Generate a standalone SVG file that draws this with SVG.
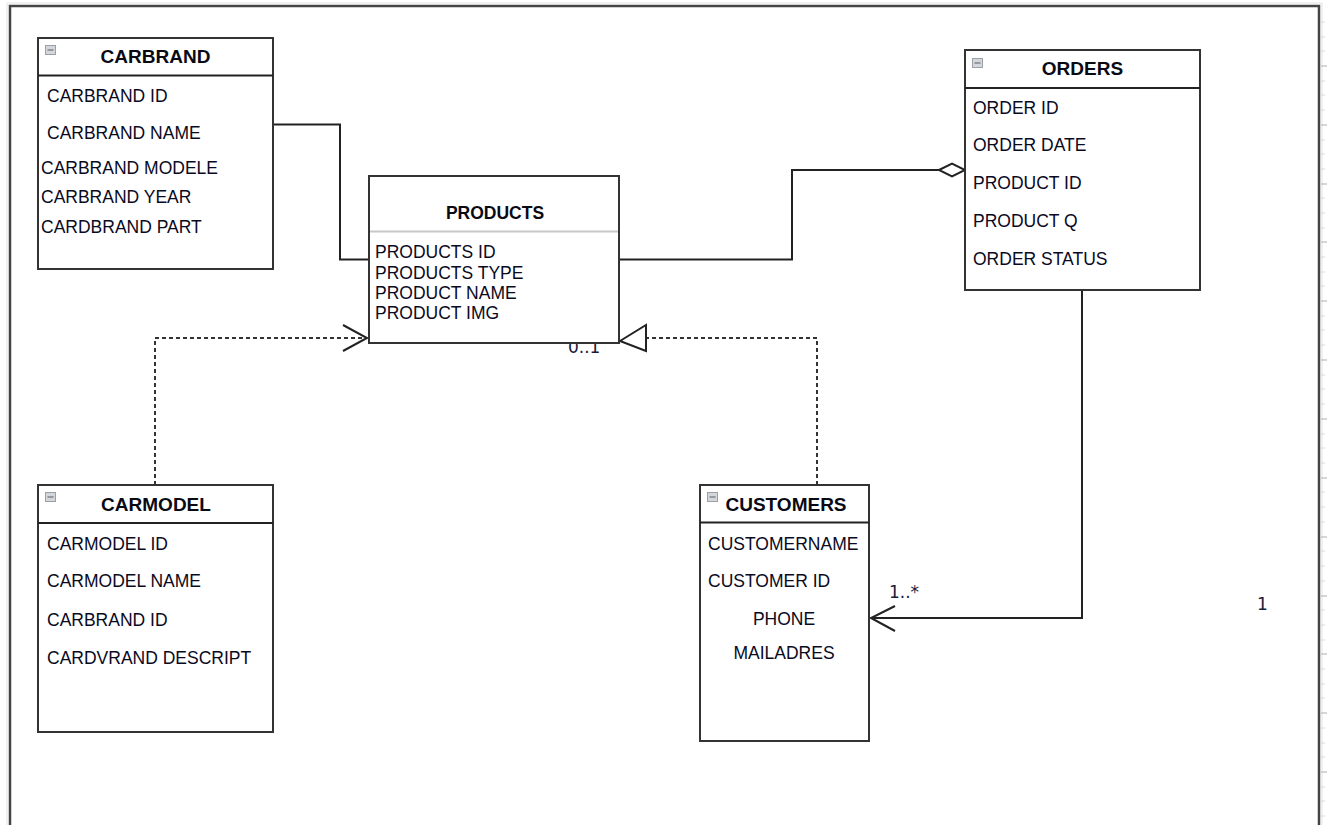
<svg xmlns="http://www.w3.org/2000/svg" width="1327" height="825" viewBox="0 0 1327 825">
<defs>
<style>
.box{fill:#fff;stroke:#333;stroke-width:2}
.hdr{stroke:#222;stroke-width:2}
.ttl{font-family:"Liberation Sans",Arial,sans-serif;font-weight:bold;font-size:19px;fill:#0a0a14;text-anchor:middle}
.fld{font-family:"Liberation Sans",Arial,sans-serif;font-size:17.5px;fill:#0a0a1e}
.lbl{font-family:"DejaVu Sans",Verdana,sans-serif;font-size:17px;fill:#1a1a3a}
.ico{fill:#d3d6da;stroke:#9ba0a6;stroke-width:1}
.icl{stroke:#6d7278;stroke-width:1.2}
.con{fill:none;stroke:#222;stroke-width:2}
.dot{fill:none;stroke:#333;stroke-width:2;stroke-dasharray:4 3}
.tk{stroke:#dcdcdc;stroke-width:1}
.tkm{stroke:#c8c8c8;stroke-width:1.5}
</style>
</defs>
<rect x="0" y="0" width="1327" height="825" fill="#fff"/>
<g id="page">
<path d="M10,825 V6 H1319 V825" fill="none" stroke="#444" stroke-width="2.5"/>
<path d="M7,825 V3 H1322 V825" fill="none" stroke="#e2e2e2" stroke-width="1"/>
<g id="ruler">
<line class="tkm" x1="1321" y1="66" x2="1327" y2="66"/>
<line class="tkm" x1="1321" y1="125" x2="1327" y2="125"/>
<line class="tkm" x1="1321" y1="184" x2="1327" y2="184"/>
<line class="tkm" x1="1321" y1="242" x2="1327" y2="242"/>
<line class="tkm" x1="1321" y1="301" x2="1327" y2="301"/>
<line class="tkm" x1="1321" y1="360" x2="1327" y2="360"/>
<line class="tkm" x1="1321" y1="419" x2="1327" y2="419"/>
<line class="tkm" x1="1321" y1="478" x2="1327" y2="478"/>
<line class="tkm" x1="1321" y1="537" x2="1327" y2="537"/>
<line class="tkm" x1="1321" y1="596" x2="1327" y2="596"/>
<line class="tkm" x1="1321" y1="654" x2="1327" y2="654"/>
<line class="tkm" x1="1321" y1="713" x2="1327" y2="713"/>
<line class="tkm" x1="1321" y1="772" x2="1327" y2="772"/>
<line class="tk" x1="1321" y1="22" x2="1325" y2="22"/>
<line class="tk" x1="1321" y1="37" x2="1325" y2="37"/>
<line class="tk" x1="1321" y1="51" x2="1325" y2="51"/>
<line class="tk" x1="1321" y1="81" x2="1325" y2="81"/>
<line class="tk" x1="1321" y1="95" x2="1325" y2="95"/>
<line class="tk" x1="1321" y1="110" x2="1325" y2="110"/>
<line class="tk" x1="1321" y1="140" x2="1325" y2="140"/>
<line class="tk" x1="1321" y1="154" x2="1325" y2="154"/>
<line class="tk" x1="1321" y1="169" x2="1325" y2="169"/>
<line class="tk" x1="1321" y1="198" x2="1325" y2="198"/>
<line class="tk" x1="1321" y1="213" x2="1325" y2="213"/>
<line class="tk" x1="1321" y1="228" x2="1325" y2="228"/>
<line class="tk" x1="1321" y1="257" x2="1325" y2="257"/>
<line class="tk" x1="1321" y1="272" x2="1325" y2="272"/>
<line class="tk" x1="1321" y1="286" x2="1325" y2="286"/>
<line class="tk" x1="1321" y1="316" x2="1325" y2="316"/>
<line class="tk" x1="1321" y1="330" x2="1325" y2="330"/>
<line class="tk" x1="1321" y1="345" x2="1325" y2="345"/>
<line class="tk" x1="1321" y1="375" x2="1325" y2="375"/>
<line class="tk" x1="1321" y1="389" x2="1325" y2="389"/>
<line class="tk" x1="1321" y1="404" x2="1325" y2="404"/>
<line class="tk" x1="1321" y1="434" x2="1325" y2="434"/>
<line class="tk" x1="1321" y1="448" x2="1325" y2="448"/>
<line class="tk" x1="1321" y1="463" x2="1325" y2="463"/>
<line class="tk" x1="1321" y1="492" x2="1325" y2="492"/>
<line class="tk" x1="1321" y1="507" x2="1325" y2="507"/>
<line class="tk" x1="1321" y1="522" x2="1325" y2="522"/>
<line class="tk" x1="1321" y1="551" x2="1325" y2="551"/>
<line class="tk" x1="1321" y1="566" x2="1325" y2="566"/>
<line class="tk" x1="1321" y1="581" x2="1325" y2="581"/>
<line class="tk" x1="1321" y1="610" x2="1325" y2="610"/>
<line class="tk" x1="1321" y1="625" x2="1325" y2="625"/>
<line class="tk" x1="1321" y1="640" x2="1325" y2="640"/>
<line class="tk" x1="1321" y1="669" x2="1325" y2="669"/>
<line class="tk" x1="1321" y1="684" x2="1325" y2="684"/>
<line class="tk" x1="1321" y1="698" x2="1325" y2="698"/>
<line class="tk" x1="1321" y1="728" x2="1325" y2="728"/>
<line class="tk" x1="1321" y1="743" x2="1325" y2="743"/>
<line class="tk" x1="1321" y1="757" x2="1325" y2="757"/>
<line class="tk" x1="1321" y1="787" x2="1325" y2="787"/>
<line class="tk" x1="1321" y1="801" x2="1325" y2="801"/>
<line class="tk" x1="1321" y1="816" x2="1325" y2="816"/>
</g>
</g>

<g id="connectors">
<path class="con" d="M273,124.5 H340 V259.5 H369"/>
<path class="con" d="M619,259.5 H792 V170 H939"/>
<polygon points="939,170 952,163.5 965,170 952,176.5" fill="#fff" stroke="#222" stroke-width="2"/>
<path class="dot" d="M155,485 V338 H366"/>
<polyline points="343,325 367,338 343,351" fill="none" stroke="#222" stroke-width="2"/>
<path class="dot" d="M817,485 V338 H646"/>
<polygon points="620,341 646,325 646,351" fill="#fff" stroke="#222" stroke-width="2"/>
<path class="con" d="M1082,291 V618 H871"/>
<polyline points="895,606 871,618 895,631" fill="none" stroke="#222" stroke-width="2"/>
<text class="lbl" x="568" y="353">0..1</text>
<text class="lbl" x="889" y="598">1..*</text>
<text class="lbl" x="1257" y="610">1</text>
</g>

<g id="carbrand">
<rect class="box" x="38" y="38" width="235" height="231"/>
<line class="hdr" x1="38" y1="75.5" x2="273" y2="75.5"/>
<rect class="ico" x="45.5" y="45.5" width="10" height="9"/>
<line class="icl" x1="47.5" y1="50" x2="53.5" y2="50"/>
<text class="ttl" x="155.5" y="63">CARBRAND</text>
<text class="fld" x="47" y="102">CARBRAND ID</text>
<text class="fld" x="47" y="139">CARBRAND NAME</text>
<text class="fld" x="41" y="174">CARBRAND MODELE</text>
<text class="fld" x="41" y="203">CARBRAND YEAR</text>
<text class="fld" x="41" y="233">CARDBRAND PART</text>
</g>

<g id="products">
<rect class="box" x="369" y="176" width="250" height="167"/>
<line x1="370" y1="231.5" x2="618" y2="231.5" stroke="#c8c8c8" stroke-width="2"/>
<text class="ttl" x="495" y="218.5" style="font-size:17.5px">PRODUCTS</text>
<text class="fld" x="375" y="257.5">PRODUCTS ID</text>
<text class="fld" x="375" y="278.5">PRODUCTS TYPE</text>
<text class="fld" x="375" y="299">PRODUCT NAME</text>
<text class="fld" x="375" y="319">PRODUCT IMG</text>
</g>

<g id="orders">
<rect class="box" x="965" y="50" width="235" height="240"/>
<line class="hdr" x1="965" y1="88" x2="1200" y2="88"/>
<rect class="ico" x="972.5" y="58.5" width="10" height="9"/>
<line class="icl" x1="974.5" y1="63" x2="980.5" y2="63"/>
<text class="ttl" x="1082.5" y="75">ORDERS</text>
<text class="fld" x="973" y="114">ORDER ID</text>
<text class="fld" x="973" y="151">ORDER DATE</text>
<text class="fld" x="973" y="189">PRODUCT ID</text>
<text class="fld" x="973" y="227">PRODUCT Q</text>
<text class="fld" x="973" y="265">ORDER STATUS</text>
</g>

<g id="carmodel">
<rect class="box" x="38" y="485" width="235" height="247"/>
<line class="hdr" x1="38" y1="523" x2="273" y2="523"/>
<rect class="ico" x="45.5" y="492.5" width="10" height="9"/>
<line class="icl" x1="47.5" y1="497" x2="53.5" y2="497"/>
<text class="ttl" x="156" y="511">CARMODEL</text>
<text class="fld" x="47" y="550">CARMODEL ID</text>
<text class="fld" x="47" y="587">CARMODEL NAME</text>
<text class="fld" x="47" y="626">CARBRAND ID</text>
<text class="fld" x="47" y="664">CARDVRAND DESCRIPT</text>
</g>

<g id="customers">
<rect class="box" x="700" y="485" width="169" height="256"/>
<line class="hdr" x1="700" y1="522.5" x2="869" y2="522.5"/>
<rect class="ico" x="707.5" y="492.5" width="10" height="9"/>
<line class="icl" x1="709.5" y1="497" x2="715.5" y2="497"/>
<text class="ttl" x="786" y="511">CUSTOMERS</text>
<text class="fld" x="708" y="549.5">CUSTOMERNAME</text>
<text class="fld" x="708" y="587">CUSTOMER ID</text>
<text class="fld" x="784" y="625" text-anchor="middle">PHONE</text>
<text class="fld" x="784" y="659" text-anchor="middle">MAILADRES</text>
</g>
</svg>
